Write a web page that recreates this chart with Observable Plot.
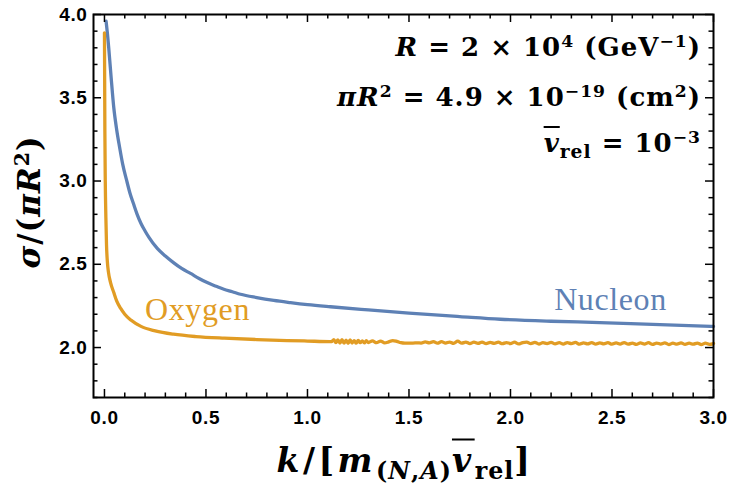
<!DOCTYPE html>
<html>
<head>
<meta charset="utf-8">
<script src="https://cdn.jsdelivr.net/npm/d3@7"></script>
<script src="https://cdn.jsdelivr.net/npm/@observablehq/plot@0.6"></script>
<style>
  html, body { margin: 0; padding: 0; background: #fff; }
  #wrap { position: relative; width: 730px; height: 490px; overflow: hidden; }
  .tex { position: absolute; font-family: "DejaVu Serif", serif; font-weight: bold; color: #000; white-space: nowrap; line-height: 1; }
  .tex i { font-style: italic; }
  .tex sup { font-size: 0.66em; vertical-align: 0; position: relative; top: -0.55em; }
  .tex sub { font-size: 0.72em; vertical-align: 0; position: relative; top: 0.3em; }
  .bar { text-decoration: overline; text-decoration-thickness: 2px; }
  .note { right: 29px; font-size: 26px; letter-spacing: 1px; transform: translateY(-50%); }
  .xlab { left: 405px; top: 460px; font-size: 33px; letter-spacing: 3.5px; transform: translate(-50%,-50%); }
  .xlab sub { letter-spacing: 1px; }
</style>
</head>
<body>
<div id="wrap">
  <div class="tex note" style="top:47px;"><i>R</i> = 2 × 10<sup>4</sup> (GeV<sup>−1</sup>)</div>
  <div class="tex note" style="top:97px;"><i>πR</i><sup>2</sup> = 4.9 × 10<sup>−19</sup> (cm<sup>2</sup>)</div>
  <div class="tex note" style="top:143px;"><i class="bar">v</i><sub>rel</sub> = 10<sup>−3</sup></div>
  <div class="tex xlab"><i>k</i>/[<i>m</i><sub>(<i>N</i>,<i>A</i>)</sub><i class="bar">v</i><sub>rel</sub>]</div>
  <div class="tex" style="left:29px; top:202px; font-size:31px; letter-spacing:1px; transform:translate(-50%,-50%) rotate(-90deg);"><i>σ</i>/(<i>πR</i><sup>2</sup>)</div>
</div>
<script>
// Dimensionless cross section σ/(πR²) versus k/[m v_rel]
const nucleonK = [0.008, 0.015, 0.021, 0.033, 0.046, 0.06, 0.075, 0.09, 0.108, 0.125, 0.144, 0.161, 0.18, 0.20, 0.22, 0.26, 0.30, 0.34, 0.38, 0.424, 0.466, 0.506, 0.55, 0.588, 0.63, 0.67, 0.75, 0.834, 0.916, 1.0, 1.113, 1.3, 1.5, 1.75, 1.95, 2.2, 2.44, 2.7, 3.0];
const nucleonS = [3.96, 3.88, 3.80, 3.62, 3.44, 3.31, 3.20, 3.10, 3.01, 2.93, 2.86, 2.80, 2.745, 2.70, 2.66, 2.595, 2.55, 2.51, 2.475, 2.445, 2.415, 2.39, 2.368, 2.35, 2.335, 2.32, 2.30, 2.283, 2.27, 2.258, 2.245, 2.226, 2.207, 2.186, 2.170, 2.158, 2.150, 2.139, 2.127];

const oxygenK = [0.0, 0.001, 0.002, 0.004, 0.007, 0.010, 0.014, 0.02, 0.03, 0.046, 0.06, 0.08, 0.1, 0.13, 0.18, 0.25, 0.34, 0.45, 0.59, 0.75, 0.9, 1.0, 1.11,
  1.12, 1.13, 1.14, 1.15, 1.16, 1.17, 1.18, 1.19, 1.20, 1.21, 1.22, 1.23, 1.24, 1.25, 1.26, 1.27, 1.28, 1.29, 1.30,
  1.32, 1.34, 1.36, 1.38, 1.40, 1.42, 1.44, 1.46, 1.48, 1.50, 1.52, 1.54, 1.56, 1.58, 1.60, 1.62, 1.64, 1.66, 1.68, 1.70,
  1.72, 1.74, 1.76, 1.78, 1.80, 1.82, 1.84, 1.86, 1.88, 1.90, 1.92, 1.94, 1.96, 1.98, 2.00, 2.02, 2.04, 2.06, 2.08, 2.10,
  2.12, 2.14, 2.16, 2.18, 2.20, 2.22, 2.24, 2.26, 2.28, 2.30, 2.32, 2.34, 2.36, 2.38, 2.40, 2.42, 2.44, 2.46, 2.48, 2.50,
  2.52, 2.54, 2.56, 2.58, 2.60, 2.62, 2.64, 2.66, 2.68, 2.70, 2.72, 2.74, 2.76, 2.78, 2.80, 2.82, 2.84, 2.86, 2.88, 2.90,
  2.92, 2.94, 2.96, 2.98, 3.00];
const oxygenS = [3.89, 3.60, 3.30, 3.00, 2.78, 2.62, 2.52, 2.45, 2.39, 2.33, 2.28, 2.235, 2.20, 2.165, 2.127, 2.10, 2.08, 2.066, 2.056, 2.048, 2.042, 2.039, 2.036,
  2.036, 2.048, 2.029, 2.046, 2.027, 2.047, 2.026, 2.045, 2.025, 2.046, 2.027, 2.042, 2.026, 2.043, 2.029, 2.040, 2.028, 2.041, 2.030,
  2.040, 2.029, 2.039, 2.028, 2.034, 2.042, 2.037, 2.029, 2.026, 2.027, 2.027, 2.028, 2.027, 2.034, 2.028, 2.036, 2.026, 2.035, 2.027, 2.033,
  2.025, 2.038, 2.026, 2.033, 2.024, 2.032, 2.025, 2.033, 2.023, 2.031, 2.025, 2.032, 2.023, 2.030, 2.024, 2.032, 2.022, 2.030, 2.033, 2.023,
  2.031, 2.021, 2.029, 2.024, 2.031, 2.022, 2.029, 2.021, 2.030, 2.023, 2.031, 2.020, 2.028, 2.022, 2.030, 2.020, 2.028, 2.022, 2.029, 2.020,
  2.028, 2.021, 2.030, 2.020, 2.027, 2.019, 2.028, 2.021, 2.029, 2.019, 2.027, 2.021, 2.028, 2.018, 2.026, 2.020, 2.028, 2.019, 2.026, 2.020,
  2.027, 2.018, 2.026, 2.019, 2.024];

const xMajor = [0, 0.5, 1.0, 1.5, 2.0, 2.5, 3.0];
const yMajor = [2.0, 2.5, 3.0, 3.5, 4.0];
const xMinor = d3.range(0, 31).map(i => i / 10).filter(v => !xMajor.some(m => Math.abs(m - v) < 1e-9));
const yMinor = d3.range(17, 41).map(i => i / 10).filter(v => !yMajor.some(m => Math.abs(m - v) < 1e-9));

const seriesLabels = [
  {name: "Oxygen", k: 0.2, s: 2.225, color: "#e19c24"},
  {name: "Nucleon", k: 2.215, s: 2.29, color: "#5e81b5"}
];

const nucleon = nucleonK.map((k, i) => ({k, s: nucleonS[i]}));
const oxygen = oxygenK.map((k, i) => ({k, s: oxygenS[i]}));

const W = 730, H = 490, ML = 93, MR = 17, MT = 14, MB = 93;
const innerW = W - ML - MR, innerH = H - MT - MB;
const major = 8, minor = 4.5;

const chart = Plot.plot({
  width: W, height: H,
  marginLeft: ML, marginRight: MR, marginTop: MT, marginBottom: MB,
  style: {fontFamily: "Liberation Sans, Arial, sans-serif", fontWeight: "bold", fontSize: "19px", color: "#000", background: "#fff", letterSpacing: "0.6px"},
  x: {domain: [-0.054, 3.0]},
  y: {domain: [1.7, 4.0]},
  marks: [
    Plot.line(nucleon, {x: "k", y: "s", stroke: "#5e81b5", strokeWidth: 3.3, curve: "monotone-x"}),
    Plot.line(oxygen, {x: "k", y: "s", stroke: "#e19c24", strokeWidth: 3.3, curve: "monotone-x"}),
    Plot.text(seriesLabels, {x: "k", y: "s", text: "name", fill: d => d.color, textAnchor: "start",
      fontFamily: "Liberation Serif, serif", fontWeight: "normal", fontSize: 32, letterSpacing: "1.8px"}),
    // inward ticks on all four sides
    Plot.ruleX(xMajor, {x: d => d, insetTop: innerH - major, strokeWidth: 1.5}),
    Plot.ruleX(xMajor, {x: d => d, insetBottom: innerH - major, strokeWidth: 1.5}),
    Plot.ruleX(xMinor, {x: d => d, insetTop: innerH - minor, strokeWidth: 1.5}),
    Plot.ruleX(xMinor, {x: d => d, insetBottom: innerH - minor, strokeWidth: 1.5}),
    Plot.ruleY(yMajor, {y: d => d, insetRight: innerW - major, strokeWidth: 1.5}),
    Plot.ruleY(yMajor, {y: d => d, insetLeft: innerW - major, strokeWidth: 1.5}),
    Plot.ruleY(yMinor, {y: d => d, insetRight: innerW - minor, strokeWidth: 1.5}),
    Plot.ruleY(yMinor, {y: d => d, insetLeft: innerW - minor, strokeWidth: 1.5}),
    Plot.axisX(xMajor, {anchor: "bottom", tickSize: 0, tickPadding: 13, tickFormat: d3.format(".1f"), label: null}),
    Plot.axisY(yMajor, {anchor: "left", tickSize: 0, tickPadding: 6, tickFormat: d3.format(".1f"), label: null}),
    Plot.frame({stroke: "#000", strokeWidth: 2})
  ]
});

document.getElementById("wrap").prepend(chart);
</script>
</body>
</html>
